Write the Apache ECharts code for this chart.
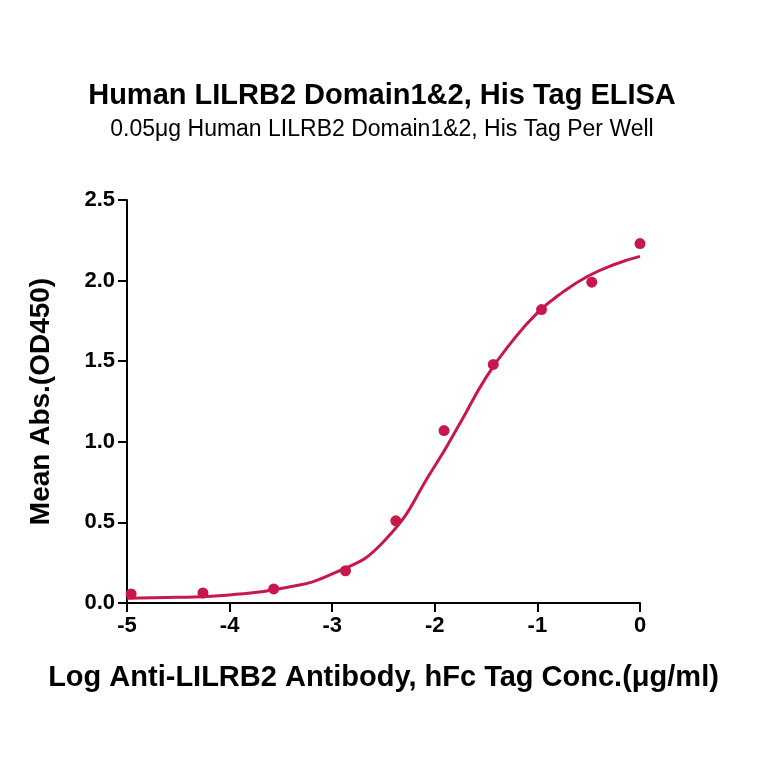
<!DOCTYPE html>
<html>
<head>
<meta charset="utf-8">
<script src="https://cdn.jsdelivr.net/npm/echarts@6/dist/echarts.min.js"></script>
<style>html,body{margin:0;padding:0;background:#fff}#chart{width:764px;height:764px}</style>
</head>
<body>
<div id="chart"></div>
<script>
// measured points (log conc, OD450)
var pointX = [-4.96, -4.26, -3.57, -2.87, -2.38, -1.91, -1.43, -0.96, -0.47, 0];
var pointY = [0.056, 0.062, 0.087, 0.20, 0.51, 1.07, 1.48, 1.82, 1.99, 2.23];
// fitted curve
var curveX = [-5, -4.5, -4, -3.5, -3, -2.5, -2, -1.75, -1.5, -1.25, -1, -0.75, -0.5, -0.25, 0];
var curveY = [0.03, 0.035, 0.05, 0.09, 0.18, 0.38, 0.85, 1.12, 1.40, 1.62, 1.80, 1.93, 2.03, 2.10, 2.15];
var xTicks = [-5, -4, -3, -2, -1, 0];

var color = '#c8174a';
var font = 'Liberation Sans';
function pairs(xs, ys) { return xs.map(function (x, i) { return [x, ys[i]]; }); }

var myChart = echarts.init(document.getElementById('chart'));
myChart.setOption({
    animation: false,
    title: [
        {text: 'Human LILRB2 Domain1&2, His Tag ELISA', left: 'center', top: 76,
         textStyle: {fontFamily: font, fontSize: 29, fontWeight: 'bold', color: '#000'}},
        {text: '0.05μg Human LILRB2 Domain1&2, His Tag Per Well', left: 'center', top: 113,
         textStyle: {fontFamily: font, fontSize: 23, fontWeight: 'normal', color: '#000'}}
    ],
    grid: {left: 127, right: 124, top: 200, bottom: 161},
    xAxis: {
        type: 'value', min: -5, max: 0, interval: 1,
        name: 'Log Anti-LILRB2 Antibody, hFc Tag Conc.(μg/ml)',
        nameLocation: 'middle', nameGap: 60,
        nameTextStyle: {fontFamily: font, fontSize: 29, fontWeight: 'bold', color: '#000'},
        axisLine: {onZero: false, lineStyle: {color: '#000', width: 2}},
        axisTick: {length: 9, lineStyle: {color: '#000', width: 2}},
        axisLabel: {fontFamily: font, fontSize: 22, fontWeight: 'bold', color: '#000', margin: 12,
            formatter: function (v) { return xTicks.indexOf(v) >= 0 ? String(v) : ''; }},
        splitLine: {show: false}
    },
    yAxis: {
        type: 'value', min: 0, max: 2.5, interval: 0.5,
        name: 'Mean Abs.(OD450)', nameLocation: 'middle', nameGap: 72,
        nameTextStyle: {fontFamily: font, fontSize: 28, fontWeight: 'bold', color: '#000'},
        axisLine: {show: true, onZero: false, lineStyle: {color: '#000', width: 2}},
        axisTick: {show: true, length: 9, lineStyle: {color: '#000', width: 2}},
        axisLabel: {fontFamily: font, fontSize: 22, fontWeight: 'bold', color: '#000', margin: 12,
            formatter: function (v) { return v.toFixed(1); }},
        splitLine: {show: false}
    },
    series: [
        {type: 'line', data: pairs(curveX, curveY), smooth: true, symbol: 'none',
         lineStyle: {color: color, width: 3}},
        {type: 'scatter', data: pairs(pointX, pointY), symbolSize: 11,
         itemStyle: {color: color, opacity: 1}}
    ]
});
</script>
</body>
</html>
